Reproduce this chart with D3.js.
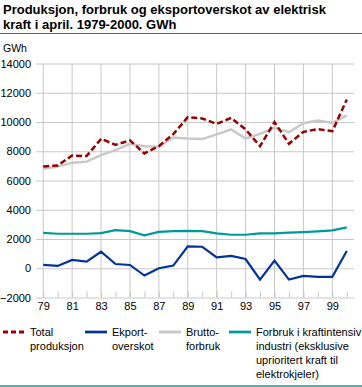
<!DOCTYPE html>
<html>
<head>
<meta charset="utf-8">
<script src="https://cdn.jsdelivr.net/npm/d3@7"></script>
<style>
  body { margin: 0; background: #fff; }
  text { font-family: "Liberation Sans", Arial, sans-serif; }
</style>
</head>
<body>
<div id="chart"></div>
<script>
// data (GWh, april each year)
const years = [1979, 1980, 1981, 1982, 1983, 1984, 1985, 1986, 1987, 1988, 1989,
  1990, 1991, 1992, 1993, 1994, 1995, 1996, 1997, 1998, 1999, 2000];
const totalProduksjon = [6960, 7030, 7710, 7670, 8850, 8440, 8740, 7850, 8350, 9170, 10330,
  10240, 9870, 10280, 9490, 8350, 9990, 8510, 9330, 9510, 9370, 11530];
const eksportoverskot = [225, 160, 565, 450, 1130, 290, 225, -500, 0, 180, 1500,
  1470, 750, 840, 630, -775, 520, -775, -525, -590, -590, 1180];
const bruttoforbruk = [6810, 6950, 7220, 7290, 7740, 8080, 8510, 8350, 8310, 8940, 8870,
  8830, 9150, 9490, 8870, 9190, 9600, 9300, 9920, 10100, 9940, 10460];
const kraftintensiv = [2420, 2360, 2360, 2360, 2400, 2610, 2540, 2250, 2490, 2540, 2560,
  2540, 2380, 2290, 2290, 2380, 2380, 2430, 2470, 2520, 2590, 2790];
const yTicks = [-2000, 0, 2000, 4000, 6000, 8000, 10000, 12000, 14000];
const xLabelYears = [1979, 1981, 1983, 1985, 1987, 1989, 1991, 1993, 1995, 1997, 1999];

const series = [
  { name: ["Total", "produksjon"], values: totalProduksjon, color: "#990000", dash: "6,3", width: 2.5 },
  { name: ["Ekport-", "overskot"], values: eksportoverskot, color: "#003399", dash: null, width: 2.2 },
  { name: ["Brutto-", "forbruk"], values: bruttoforbruk, color: "#c8c8c8", dash: null, width: 2.5 },
  { name: ["Forbruk i kraftintensiv", "industri (eksklusive", "uprioritert kraft til", "elektrokjeler)"], values: kraftintensiv, color: "#009999", dash: null, width: 2.2 }
];

const W = 362, H = 387;
const plot = { left: 36, right: 354, top: 63.5, bottom: 297.5 };

const svg = d3.select("#chart").append("svg")
  .attr("width", W).attr("height", H);

// title
svg.append("text").attr("x", 3).attr("y", 14)
  .attr("font-size", 13).attr("font-weight", "bold").attr("fill", "#000")
  .text("Produksjon, forbruk og eksportoverskot av elektrisk");
svg.append("text").attr("x", 3).attr("y", 29)
  .attr("font-size", 13).attr("font-weight", "bold").attr("fill", "#000")
  .text("kraft i april. 1979-2000. GWh");
svg.append("line").attr("x1", 0).attr("x2", W).attr("y1", 33.5).attr("y2", 33.5)
  .attr("stroke", "#008a8a").attr("stroke-width", 1);

svg.append("text").attr("x", 3).attr("y", 52)
  .attr("font-size", 10.5).attr("fill", "#000").text("GWh");

const x = d3.scalePoint()
  .domain(years)
  .range([plot.left, plot.right])
  .padding(0.5);

const y = d3.scaleLinear()
  .domain([-2000, 14000])
  .range([plot.bottom, plot.top]);

// horizontal grid + y labels
svg.append("g")
  .attr("transform", `translate(${plot.left},0)`)
  .call(d3.axisLeft(y).tickValues(yTicks).tickFormat(d3.format("d"))
    .tickSize(-(plot.right - plot.left)).tickPadding(5))
  .call(g => g.select(".domain").remove())
  .call(g => g.selectAll("line").attr("stroke", "#c8c8c8"))
  .call(g => g.selectAll("text").attr("font-size", 11).attr("fill", "#000"));

// vertical grid lines at labelled years
svg.append("g").selectAll("line")
  .data(xLabelYears)
  .join("line")
  .attr("x1", d => x(d)).attr("x2", d => x(d))
  .attr("y1", plot.top).attr("y2", plot.bottom)
  .attr("stroke", "#c8c8c8");

// bottom axis with short ticks at every year
svg.append("g")
  .attr("transform", `translate(0,${plot.bottom})`)
  .call(d3.axisBottom(x).tickSize(-6).tickPadding(3)
    .tickFormat(d => xLabelYears.includes(d) ? String(d).slice(2) : ""))
  .call(g => g.select(".domain").remove())
  .call(g => g.selectAll("line").attr("stroke", "#c8c8c8"))
  .call(g => g.selectAll("text").attr("font-size", 11).attr("fill", "#000").attr("dy", "0.9em"));

// lines, drawn so the red dashed one ends on top
const line = d3.line().x((d, i) => x(years[i])).y(d => y(d));
[2, 3, 1, 0].forEach(k => {
  const s = series[k];
  svg.append("path")
    .datum(s.values)
    .attr("fill", "none")
    .attr("stroke", s.color)
    .attr("stroke-width", s.width)
    .attr("stroke-dasharray", s.dash)
    .attr("d", line);
});

// legend
const legendX = [3, 85, 159, 229];
const legend = svg.append("g");
series.forEach((s, i) => {
  const g = legend.append("g").attr("transform", `translate(${legendX[i]},0)`);
  g.append("line")
    .attr("x1", 0).attr("x2", 22).attr("y1", 332).attr("y2", 332)
    .attr("stroke", s.color).attr("stroke-width", s.width + 0.5)
    .attr("stroke-dasharray", s.dash ? "5,3" : null);
  g.append("text")
    .attr("x", 27).attr("y", 336)
    .attr("font-size", 11).attr("fill", "#000")
    .selectAll("tspan")
    .data(s.name)
    .join("tspan")
    .attr("x", 27)
    .attr("dy", (d, j) => j === 0 ? 0 : 14)
    .text(d => d);
});

svg.append("line").attr("x1", 0).attr("x2", W).attr("y1", 386).attr("y2", 386)
  .attr("stroke", "#00a0a0").attr("stroke-width", 1.5);
</script>
</body>
</html>
